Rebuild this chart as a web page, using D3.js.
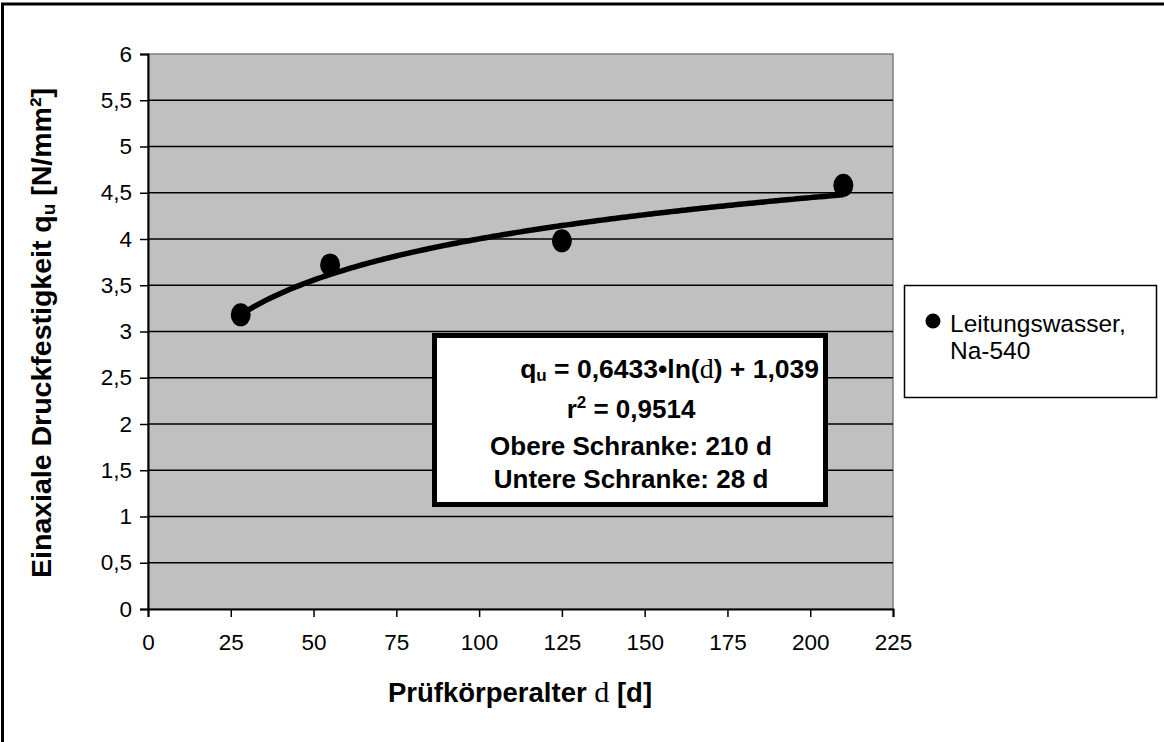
<!DOCTYPE html>
<html><head><meta charset="utf-8">
<script src="https://cdn.jsdelivr.net/npm/d3@7"></script>
<style>
html,body{margin:0;padding:0;background:#fff;}
svg{display:block;font-family:"Liberation Sans",Arial,sans-serif;}
</style></head>
<body>
<svg id="chart" width="1164" height="742"></svg>
<script>
// ---- data ----
const ageDays = [28, 55, 125, 210];
const strength = [3.18, 3.72, 3.98, 4.58];
const xTicks = [0, 25, 50, 75, 100, 125, 150, 175, 200, 225];
const yTicks = [0, 0.5, 1, 1.5, 2, 2.5, 3, 3.5, 4, 4.5, 5, 5.5, 6];
const trendCoef = [0.6433, 1.039];   // q = a*ln(d) + b
const trendRange = [28, 210];
const seriesName = ["Leitungswasser,", "Na-540"];
const boxLines = ["r² = 0,9514", "Obere Schranke: 210 d", "Untere Schranke: 28 d"];

const svg = d3.select("#chart");
const fmt = v => String(v).replace(".", ",");

// outer frame (top + left visible)
svg.append("line").attr("x1", 1).attr("x2", 1164).attr("y1", 4).attr("y2", 4)
  .attr("stroke", "#000").attr("stroke-width", 3);
svg.append("line").attr("x1", 2.5).attr("x2", 2.5).attr("y1", 3).attr("y2", 742)
  .attr("stroke", "#000").attr("stroke-width", 3);

const L = 148, R = 893, T = 54, B = 609;
const x = d3.scaleLinear().domain([0, 225]).range([L, R]);
const y = d3.scaleLinear().domain([0, 6]).range([B, T]);

// plot area
svg.append("rect").attr("x", L).attr("y", T).attr("width", R - L).attr("height", B - T)
  .attr("fill", "#c0c0c0").attr("stroke", "#808080").attr("stroke-width", 1.5);

// gridlines
svg.append("g").selectAll("line").data(yTicks.filter(v => v > 0 && v < 6)).join("line")
  .attr("x1", L).attr("x2", R).attr("y1", d => y(d)).attr("y2", d => y(d))
  .attr("stroke", "#000").attr("stroke-width", 1.5);

// axes
const yAxis = svg.append("g").attr("transform", `translate(${L},0)`)
  .call(d3.axisLeft(y).tickValues(yTicks).tickFormat(fmt).tickSize(8).tickPadding(8));
const xAxis = svg.append("g").attr("transform", `translate(0,${B})`)
  .call(d3.axisBottom(x).tickValues(xTicks).tickFormat(fmt).tickSize(8).tickPadding(17));
[yAxis, xAxis].forEach(a => {
  a.select(".domain").attr("stroke", "#000").attr("stroke-width", 2);
  a.selectAll(".tick line").attr("stroke", "#000").attr("stroke-width", 1.5);
  a.selectAll("text").attr("font-size", 22.5).attr("fill", "#000")
    .attr("font-family", '"Liberation Sans",Arial,sans-serif');
});

// trendline
const lineData = d3.range(trendRange[0], trendRange[1] + 0.001, 1)
  .map(d => [d, trendCoef[0] * Math.log(d) + trendCoef[1]]);
svg.append("path").datum(lineData)
  .attr("d", d3.line().x(d => x(d[0])).y(d => y(d[1])).curve(d3.curveMonotoneX))
  .attr("fill", "none").attr("stroke", "#000").attr("stroke-width", 5.5);

// points
svg.append("g").selectAll("ellipse").data(ageDays).join("ellipse")
  .attr("cx", d => x(d)).attr("cy", (d, i) => y(strength[i]))
  .attr("rx", 10).attr("ry", 11.5).attr("fill", "#000");

// equation box
const bx = 432, by = 333, bw = 396, bh = 174;
svg.append("rect").attr("x", bx + 2.5).attr("y", by + 2.5).attr("width", bw - 5).attr("height", bh - 5)
  .attr("fill", "#fff").attr("stroke", "#000").attr("stroke-width", 5);
const eq = svg.append("text").attr("x", 819).attr("y", 378).attr("text-anchor", "end")
  .attr("font-size", 26.5).attr("font-weight", "bold");
eq.append("tspan").text("q");
eq.append("tspan").text("u").attr("font-size", 17).attr("dy", 3);
eq.append("tspan").text(" = " + fmt(trendCoef[0]) + "•ln(").attr("dy", -3);
eq.append("tspan").text("d").attr("font-family", '"Liberation Serif",serif').attr("font-weight", "normal").attr("font-size", 28);
eq.append("tspan").text(") + " + fmt(trendCoef[1]));
const r2 = svg.append("text").attr("x", 631).attr("y", 418).attr("text-anchor", "middle")
  .attr("font-size", 26).attr("font-weight", "bold");
r2.append("tspan").text("r");
r2.append("tspan").text("2").attr("font-size", 17).attr("dy", -10);
r2.append("tspan").text(" = 0,9514").attr("dy", 10);
svg.append("g").selectAll("text").data(boxLines.slice(1)).join("text")
  .attr("x", 631).attr("y", (d, i) => 455 + i * 33).attr("text-anchor", "middle")
  .attr("font-size", 26).attr("font-weight", "bold").text(d => d);

// legend
svg.append("rect").attr("x", 904.5).attr("y", 285.5).attr("width", 252).attr("height", 112)
  .attr("fill", "#fff").attr("stroke", "#000").attr("stroke-width", 1.5);
svg.append("circle").attr("cx", 933).attr("cy", 321).attr("r", 7.5).attr("fill", "#000");
svg.append("g").selectAll("text").data(seriesName).join("text")
  .attr("x", 950).attr("y", (d, i) => 332 + i * 27).attr("font-size", 24.5).text(d => d);

// axis titles
const xt = svg.append("text").attr("x", 520).attr("y", 702).attr("text-anchor", "middle")
  .attr("font-size", 27.5).attr("font-weight", "bold");
xt.append("tspan").text("Prüfkörperalter ");
xt.append("tspan").text("d").attr("font-family", '"Liberation Serif",serif').attr("font-weight", "normal").attr("font-size", 30);
xt.append("tspan").text(" [d]");

const yt = svg.append("text").attr("transform", "translate(51,333) rotate(-90)")
  .attr("text-anchor", "middle").attr("font-size", 28.5).attr("font-weight", "bold");
yt.append("tspan").text("Einaxiale Druckfestigkeit q");
yt.append("tspan").text("u").attr("font-size", 19).attr("dy", 4);
yt.append("tspan").text(" [N/mm²]").attr("dy", -4);
</script>
</body></html>
